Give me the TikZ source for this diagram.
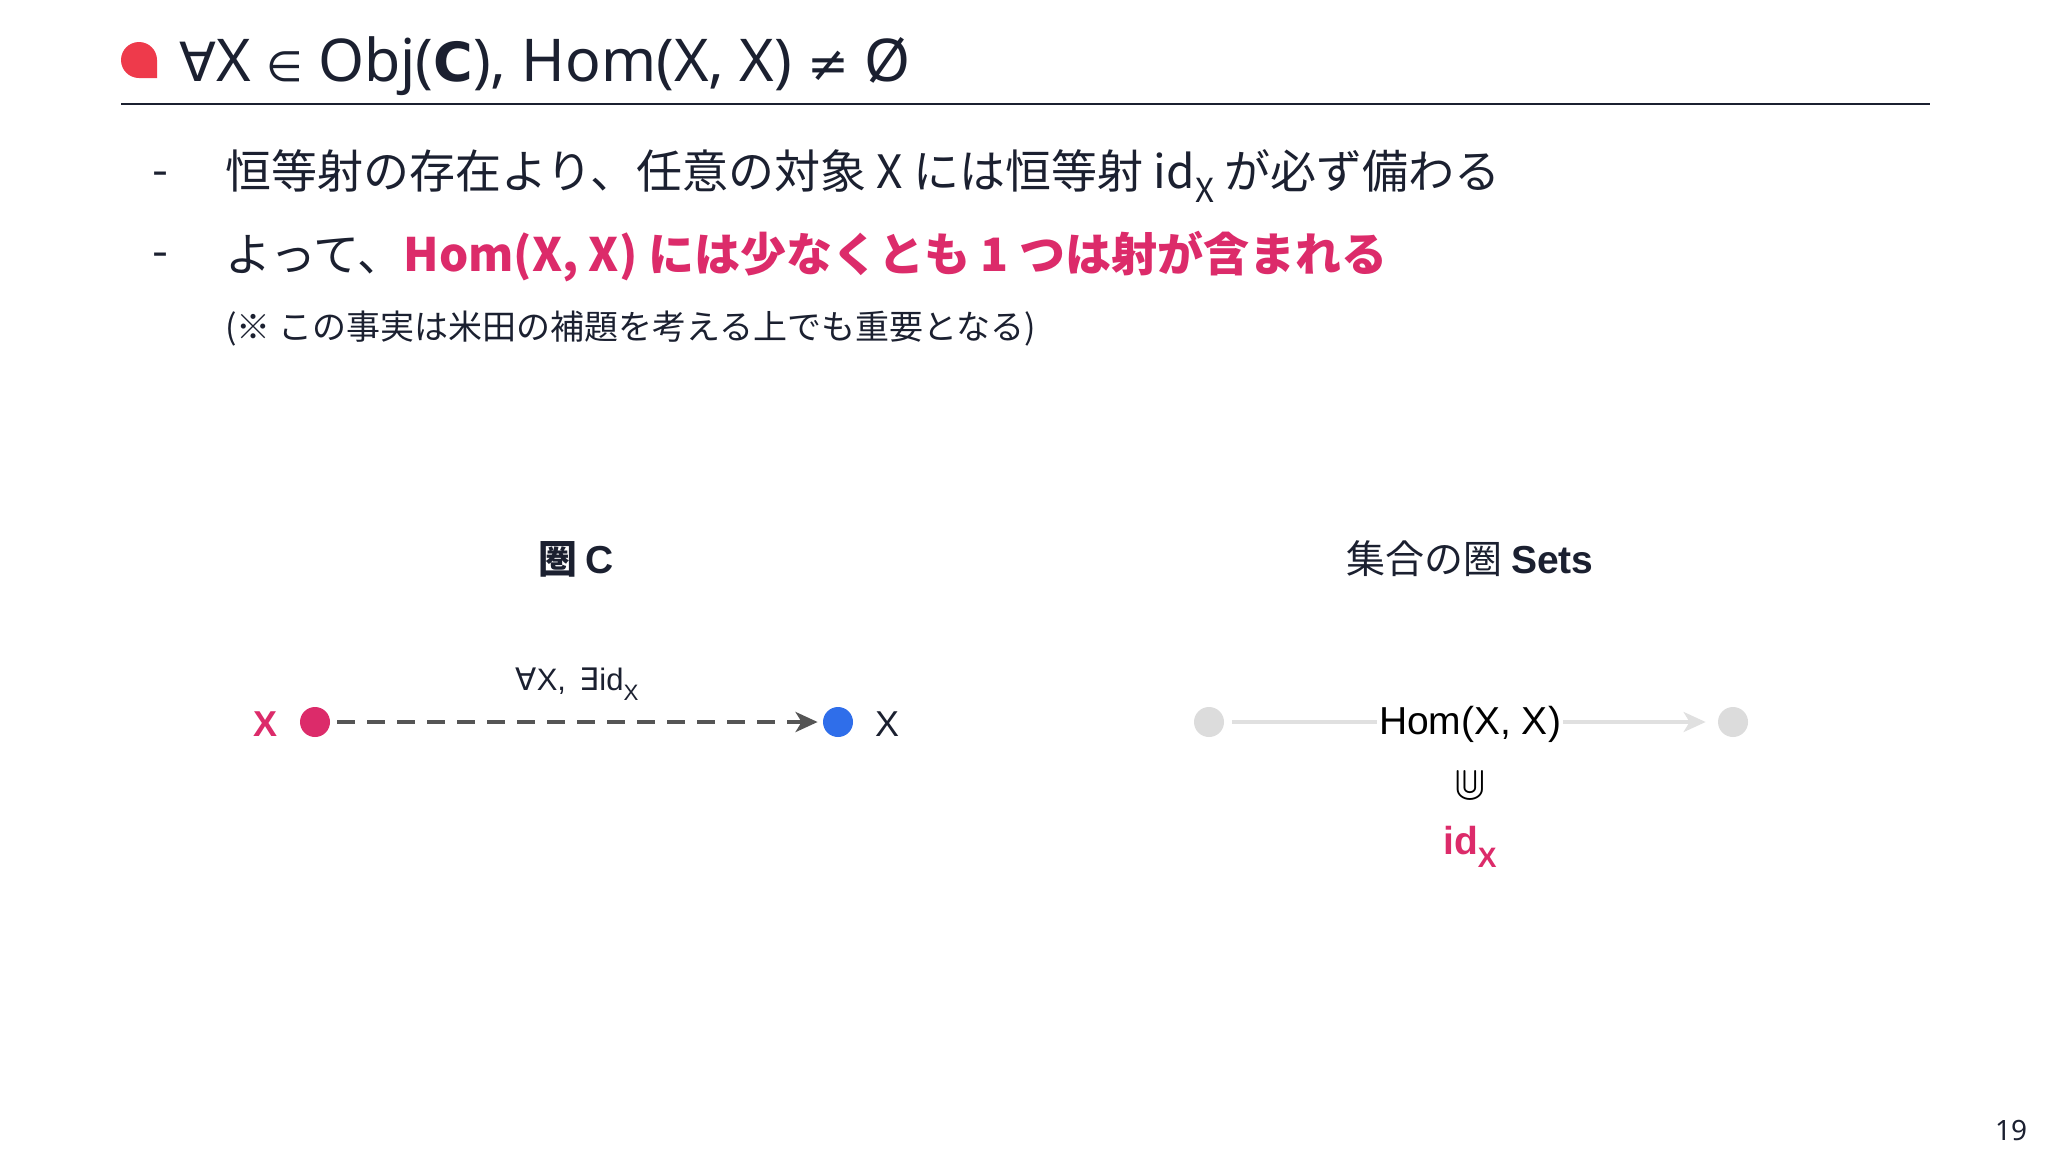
\documentclass[tikz,border=0pt]{standalone}
\usepackage{fontspec}
\usetikzlibrary{arrows.meta}
\setmainfont{Noto Sans CJK JP}
\newfontfamily\jp{Noto Sans CJK JP}
\newfontfamily\sym{DejaVu Sans}
\newfontfamily\ar{Liberation Sans}
\newfontfamily\ns{Noto Sans}
\newfontfamily\lmm{Latin Modern Math}
\definecolor{textdark}{HTML}{1B2030}
\definecolor{pinkred}{HTML}{DC2B6A}
\definecolor{bulletred}{HTML}{EE3A4B}
\definecolor{dotblue}{HTML}{2F6EEA}
\definecolor{graydot}{HTML}{DCDCDC}
\definecolor{grayline}{HTML}{E0E0E0}
\definecolor{arrowgray}{HTML}{555555}
\newcommand{\mysub}[1]{\raisebox{-0.32em}{\scalebox{0.72}{#1}}}
\begin{document}
\begin{tikzpicture}[x=0.5pt,y=-0.5pt,
  every node/.style={text=textdark, inner sep=0pt},
  dotnode/.style={circle, inner sep=0pt, minimum size=15pt, draw=none},
  bodytext/.style={anchor=west, font=\jp\fontsize{23pt}{28pt}\selectfont},
  dashmark/.style={anchor=west, font=\jp\fontsize{23pt}{28pt}\selectfont},
  headtext/.style={font=\fontsize{19.5pt}{23pt}\selectfont},
  objlabel/.style={font=\ar\fontsize{18pt}{22pt}\selectfont}
]
\useasboundingbox[fill=white] (0,0) rectangle (2048,1152);

% title
\fill[bulletred] (157,78) -- (157,60) arc[start angle=0,end angle=-270,radius=18] -- cycle;
\node[anchor=base west, font=\ns\fontsize{29.5pt}{34pt}\selectfont] (title) at (179,81)
  {{\sym\fontsize{27pt}{30pt}\selectfont ∀}X {\sym\fontsize{21pt}{30pt}\selectfont ∈} Obj({\sym\bfseries\fontsize{27pt}{30pt}\selectfont C}), Hom(X, X) {\sym\fontsize{25pt}{30pt}\selectfont ≠} Ø};
\draw[textdark, line width=1.1pt] (121,104) -- (1930,104);

% bullets
\node[dashmark] (d1) at (152,179) {-};
\node[bodytext] (b1) at (225,176) {恒等射の存在より、任意の対象 X には恒等射 id\mysub{X} が必ず備わる};
\node[dashmark] (d2) at (152,260) {-};
\node[bodytext] (b2) at (225,257) {よって、\textcolor{pinkred}{\bfseries Hom(X, X) には少なくとも 1 つは射が含まれる}};
\node[anchor=west, font=\jp\fontsize{17pt}{21pt}\selectfont] (note) at (225,329) {(※ この事実は米田の補題を考える上でも重要となる)};

% headings
\node[headtext] (hC) at (576,559) {{\jp\bfseries 圏} {\ar\bfseries C}};
\node[headtext] (hS) at (1470,559) {{\jp 集合の圏} {\ar\bfseries Sets}};

% left diagram
\node[dotnode, fill=pinkred] (a) at (315,722) {};
\node[dotnode, fill=dotblue] (b) at (838,722) {};
\node[objlabel, text=pinkred, font=\ar\bfseries\fontsize{18pt}{22pt}\selectfont] (la) at (266,724) {X};
\node[objlabel] (lb) at (887,724) {X};
\draw[arrowgray, line width=1.9pt, dash pattern=on 9pt off 6pt, shorten <=3.5pt, shorten >=2.5pt,
  -{Stealth[length=11pt,width=10pt,inset=3pt]}] (a) -- (b);
\node[font=\ar\fontsize{15.5pt}{18pt}\selectfont] (lab) at (577,684) {{\sym ∀}X,\, {\sym ∃}id\mysub{X}};

% right diagram
\node[dotnode, fill=graydot] (c) at (1209,722) {};
\node[dotnode, fill=graydot] (d) at (1733,722) {};
\draw[grayline, line width=1.6pt, shorten <=4pt, shorten >=6pt,
  -{Stealth[length=11pt,width=10pt,inset=3pt]}] (c) -- (d);
\node[fill=white, inner xsep=1pt, inner ysep=2pt, font=\ar\fontsize{19.5pt}{23pt}\selectfont, text=black] (hom) at (1470,724) {Hom(X, X)};
\node[font=\lmm\fontsize{24pt}{27pt}\selectfont, text=black] (sub) at (1470,785) {⋓};
\node[font=\ar\bfseries\fontsize{19.5pt}{23pt}\selectfont, text=pinkred] (idx) at (1470,847) {id\mysub{X}};

% page number
\node[font=\ns\fontsize{14pt}{17pt}\selectfont] (pg) at (2011,1130) {19};
\end{tikzpicture}
\end{document}
